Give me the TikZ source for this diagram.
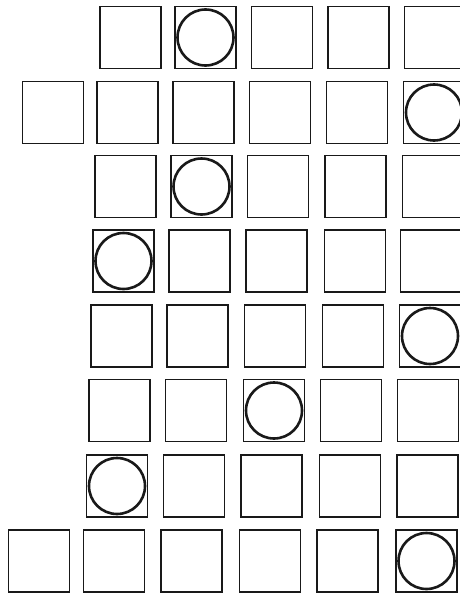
\documentclass[tikz,border=0pt]{standalone}
\begin{document}
\begin{tikzpicture}[x=1pt,y=-1pt,
  sq/.style={draw=black!90,line width=1.6pt,minimum width=61pt,minimum height=62pt,inner sep=0pt},
  ring/.style={draw=black!90,line width=2.6pt,circle,minimum size=56pt,inner sep=0pt}]
\useasboundingbox (0,0) rectangle (460,597);
\clip (0,0) rectangle (460,597);
% row 1
\node[sq] (r1c1) at (130.5,37.5) {};
\node[sq] (r1c2) at (205.5,37.5) {};
\node[sq] (r1c3) at (282,37.5) {};
\node[sq] (r1c4) at (358.5,37.5) {};
\node[sq] (r1c5) at (435,37.5) {};
% row 2
\node[sq] (r2c1) at (53,112.5) {};
\node[sq] (r2c2) at (127.5,112.5) {};
\node[sq] (r2c3) at (203.5,112.5) {};
\node[sq] (r2c4) at (280,112.5) {};
\node[sq] (r2c5) at (357,112.5) {};
\node[sq] (r2c6) at (434,112.5) {};
% row 3
\node[sq] (r3c1) at (125.5,186.5) {};
\node[sq] (r3c2) at (201.5,186.5) {};
\node[sq] (r3c3) at (278,186.5) {};
\node[sq] (r3c4) at (355.5,186.5) {};
\node[sq] (r3c5) at (433,186.5) {};
% row 4
\node[sq] (r4c1) at (123.5,261) {};
\node[sq] (r4c2) at (199.5,261) {};
\node[sq] (r4c3) at (276.5,261) {};
\node[sq] (r4c4) at (355,261) {};
\node[sq] (r4c5) at (431,261) {};
% row 5
\node[sq] (r5c1) at (121.5,336) {};
\node[sq] (r5c2) at (197.5,336) {};
\node[sq] (r5c3) at (275,336) {};
\node[sq] (r5c4) at (353,336) {};
\node[sq] (r5c5) at (430,336) {};
% row 6
\node[sq] (r6c1) at (119.5,410.5) {};
\node[sq] (r6c2) at (196,410.5) {};
\node[sq] (r6c3) at (274,410.5) {};
\node[sq] (r6c4) at (351,410.5) {};
\node[sq] (r6c5) at (428,410.5) {};
% row 7
\node[sq] (r7c1) at (117,486) {};
\node[sq] (r7c2) at (194,486) {};
\node[sq] (r7c3) at (271.5,486) {};
\node[sq] (r7c4) at (350,486) {};
\node[sq] (r7c5) at (427.5,486) {};
% row 8
\node[sq] (r8c1) at (39,561) {};
\node[sq] (r8c2) at (114,561) {};
\node[sq] (r8c3) at (191.5,561) {};
\node[sq] (r8c4) at (270,561) {};
\node[sq] (r8c5) at (347.5,561) {};
\node[sq] (r8c6) at (426.5,561) {};
% circles
\node[ring] (o1) at (r1c2) {};
\node[ring] (o2) at (r2c6) {};
\node[ring] (o3) at (r3c2) {};
\node[ring] (o4) at (r4c1) {};
\node[ring] (o5) at (r5c5) {};
\node[ring] (o6) at (r6c3) {};
\node[ring] (o7) at (r7c1) {};
\node[ring] (o8) at (r8c6) {};
\end{tikzpicture}
\end{document}
